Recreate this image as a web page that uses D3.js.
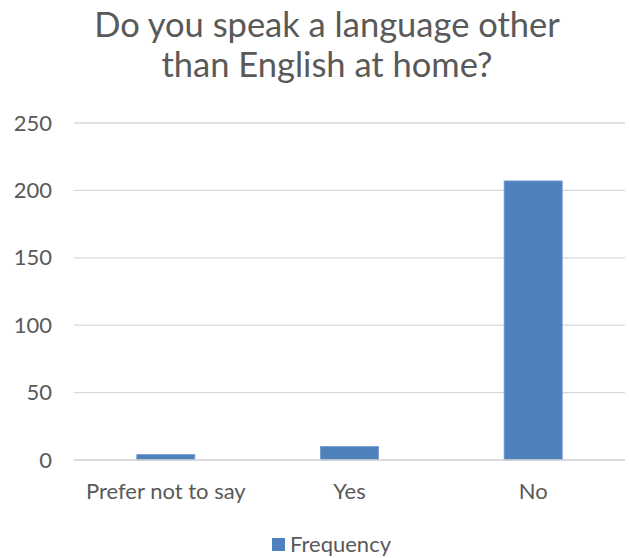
<!DOCTYPE html>
<html>
<head>
<meta charset="utf-8">
<script src="https://cdn.jsdelivr.net/npm/d3@7"></script>
<style>
  html, body { margin: 0; padding: 0; background: #fff; }
  svg { display: block; font-family: Lato, "Open Sans", sans-serif; }
</style>
</head>
<body>
<svg id="chart" width="629" height="558"></svg>
<script>
// Survey responses
const categories = ["Prefer not to say", "Yes", "No"];
const frequency = [4, 10, 207];
const yTicks = [0, 50, 100, 150, 200, 250];
const titleLines = ["Do you speak a language other", "than English at home?"];
const seriesName = "Frequency";

const W = 629, H = 558;
const margin = { top: 123, right: 4, bottom: 98, left: 74 };
const svg = d3.select("#chart");

const x = d3.scaleBand()
  .domain(categories)
  .range([margin.left, W - margin.right])
  .paddingInner(0.684)
  .paddingOuter(0.342);

const y = d3.scaleLinear()
  .domain([0, 250])
  .range([H - margin.bottom, margin.top]);

const textColor = "#595959";
const labelSize = "22px";

// Horizontal gridlines
svg.append("g")
  .selectAll("line")
  .data(yTicks)
  .join("line")
  .attr("x1", margin.left)
  .attr("x2", W - margin.right)
  .attr("y1", d => y(d))
  .attr("y2", d => y(d))
  .attr("stroke", "#d9d9d9")
  .attr("stroke-width", 1.3);

// Y axis labels
const yAxis = d3.axisLeft(y).tickValues(yTicks).tickSize(0).tickPadding(22);
svg.append("g")
  .attr("transform", `translate(${margin.left},0)`)
  .call(yAxis)
  .call(g => g.select(".domain").remove())
  .call(g => g.selectAll("text")
    .attr("fill", textColor)
    .style("font-size", labelSize)
    .style("font-family", "Lato, sans-serif"));

// Bars
svg.append("g")
  .selectAll("rect")
  .data(categories.map((c, i) => ({ c, v: frequency[i] })))
  .join("rect")
  .attr("x", d => x(d.c))
  .attr("width", x.bandwidth())
  .attr("y", d => y(d.v))
  .attr("height", d => y(0) - y(d.v))
  .attr("fill", "#4f81bd")
  .attr("stroke", "#6f97cc")
  .attr("stroke-width", 0.8);

// Baseline
svg.append("line")
  .attr("x1", margin.left)
  .attr("x2", W - margin.right)
  .attr("y1", y(0))
  .attr("y2", y(0))
  .attr("stroke", "#d9d9d9")
  .attr("stroke-width", 1.3);

// X axis labels
const xAxis = d3.axisBottom(x).tickSize(0).tickPadding(23);
svg.append("g")
  .attr("transform", `translate(0,${y(0)})`)
  .call(xAxis)
  .call(g => g.select(".domain").remove())
  .call(g => g.selectAll("text")
    .attr("fill", textColor)
    .style("font-size", labelSize)
    .style("font-family", "Lato, sans-serif"));

// Title
svg.append("g")
  .selectAll("text")
  .data(titleLines)
  .join("text")
  .attr("x", 327)
  .attr("y", (d, i) => 37 + i * 40)
  .attr("text-anchor", "middle")
  .attr("fill", textColor)
  .style("font-size", "34.5px")
  .text(d => d);

// Legend
const legend = svg.append("g").attr("transform", "translate(272,538)");
legend.append("rect")
  .attr("width", 13).attr("height", 13)
  .attr("fill", "#4f81bd");
legend.append("text")
  .attr("x", 18).attr("y", 14)
  .attr("fill", textColor)
  .style("font-size", labelSize)
  .text(seriesName);
</script>
</body>
</html>
